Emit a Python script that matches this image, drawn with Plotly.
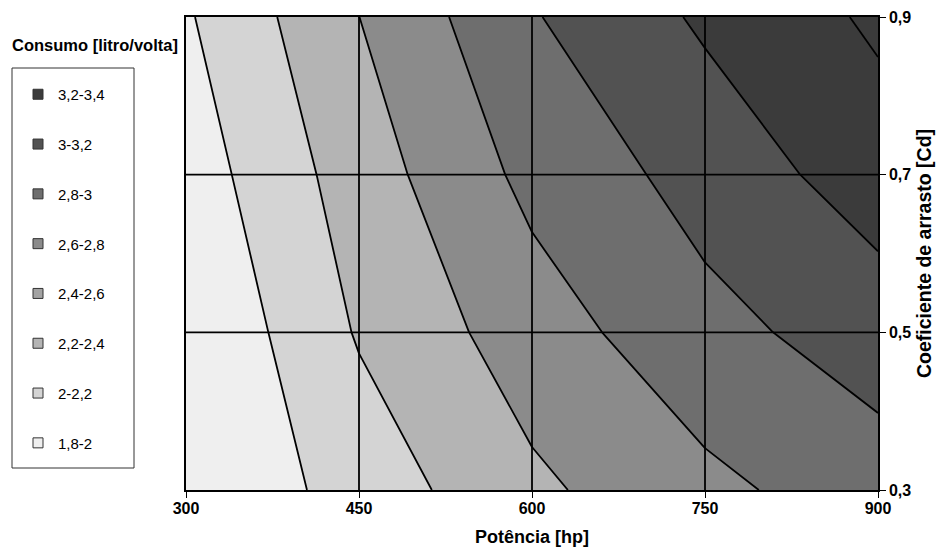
import plotly.graph_objects as go

# Grid data (Potência [hp] x Cd)
potencia = [300, 450, 600, 750, 900]
cd = [0.3, 0.5, 0.7, 0.9]
consumo = [
    [1.807, 2.083, 2.361, 2.549, 2.713],   # Cd 0.3
    [1.802, 2.218, 2.504, 2.741, 2.891],   # Cd 0.5
    [1.892, 2.300, 2.655, 2.874, 3.103],   # Cd 0.7
    [1.978, 2.399, 2.785, 3.031, 3.233],   # Cd 0.9
]
level_start, level_end, level_step = 1.8, 3.4, 0.2
band_labels = ["1,8-2", "2-2,2", "2,2-2,4", "2,4-2,6", "2,6-2,8", "2,8-3", "3-3,2", "3,2-3,4"]
band_colors = ["#efefef", "#d4d4d4", "#b4b4b4", "#a3a3a3", "#8b8b8b", "#6e6e6e", "#525252", "#3b3b3b"]
x_ticks = [300, 450, 600, 750, 900]
y_ticks = [0.3, 0.5, 0.7, 0.9]
y_ticktext = ["0,3", "0,5", "0,7", "0,9"]
grid_x = [450, 600, 750]
grid_y = [0.5, 0.7]

FONT = "Liberation Sans, Arial, sans-serif"
W, H = 944, 548
ML, MR, MT, MB = 186, 66, 17, 58
PW, PH = W - ML - MR, H - MT - MB


def px_to_paper_x(px):
    return (px - ML) / PW


def px_to_paper_y(py):
    return (H - MB - py) / PH


n = len(band_colors)
colorscale = []
for i, c in enumerate(band_colors):
    colorscale.append([i / n, c])
    colorscale.append([(i + 1) / n, c])

fig = go.Figure()
fig.add_trace(go.Contour(
    x=potencia, y=cd, z=consumo,
    colorscale=colorscale, zmin=level_start, zmax=level_end, zauto=False,
    contours=dict(start=level_start, end=level_end, size=level_step, coloring="fill"),
    line=dict(color="black", width=1.8, smoothing=0),
    showscale=False, hoverinfo="skip", showlegend=False,
))

for lab, col in reversed(list(zip(band_labels, band_colors))):
    fig.add_trace(go.Scatter(
        x=[None], y=[None], mode="markers", name=lab, legendgroup=lab,
        marker=dict(symbol="square", size=10, color=col, line=dict(color="#333333", width=1)),
        showlegend=True,
    ))

shapes = []
for gx in grid_x:
    shapes.append(dict(type="line", xref="x", yref="paper", x0=gx, x1=gx, y0=0, y1=1,
                       line=dict(color="black", width=1.8), layer="above"))
for gy in grid_y:
    shapes.append(dict(type="line", xref="paper", yref="y", x0=0, x1=1, y0=gy, y1=gy,
                       line=dict(color="black", width=1.8), layer="above"))
# legend frame
shapes.append(dict(type="rect", xref="paper", yref="paper",
                   x0=px_to_paper_x(12), x1=px_to_paper_x(134),
                   y0=px_to_paper_y(468), y1=px_to_paper_y(68),
                   line=dict(color="#333333", width=1), fillcolor="white", layer="below"))

fig.update_layout(
    width=W, height=H,
    margin=dict(l=ML, r=MR, t=MT, b=MB, autoexpand=False),
    paper_bgcolor="white", plot_bgcolor="white",
    font=dict(family=FONT, color="black", size=15),
    shapes=shapes,
    showlegend=True,
    legend=dict(
        x=px_to_paper_x(18), xanchor="left", y=px_to_paper_y(78), yanchor="top",
        bgcolor="rgba(0,0,0,0)", borderwidth=0,
        tracegroupgap=27.3, traceorder="grouped",
        font=dict(family=FONT, size=15, color="black"),
        itemwidth=30,
    ),
    annotations=[dict(
        text="<b>Consumo [litro/volta]</b>", xref="paper", yref="paper",
        x=px_to_paper_x(10), y=px_to_paper_y(45), xanchor="left", yanchor="middle", showarrow=False,
        font=dict(family=FONT, size=16.5, color="black"),
    )],
    xaxis=dict(
        range=[300, 900], tickvals=x_ticks, ticks="outside", ticklen=6, tickcolor="black",
        showgrid=False, zeroline=False, showline=True, linecolor="black", linewidth=1.5, mirror=True,
        tickfont=dict(family=FONT, size=16, color="black", weight="bold"),
        ticklabelstandoff=-3,
        title=dict(text="<b>Potência [hp]</b>", font=dict(family=FONT, size=18, color="black"), standoff=14),
    ),
    yaxis=dict(
        range=[0.3, 0.9], side="right", tickvals=y_ticks, ticktext=y_ticktext,
        ticks="outside", ticklen=6, tickcolor="black",
        showgrid=False, zeroline=False, showline=True, linecolor="black", linewidth=1.5, mirror=True,
        tickfont=dict(family=FONT, size=16, color="black", weight="bold"),
        title=dict(text="<b>Coeficiente de arrasto [Cd]</b>", font=dict(family=FONT, size=19.5, color="black"), standoff=7),
    ),
)

fig.write_html("out.html", config={"displayModeBar": False},
               post_script="document.body.style.margin='0px';")
